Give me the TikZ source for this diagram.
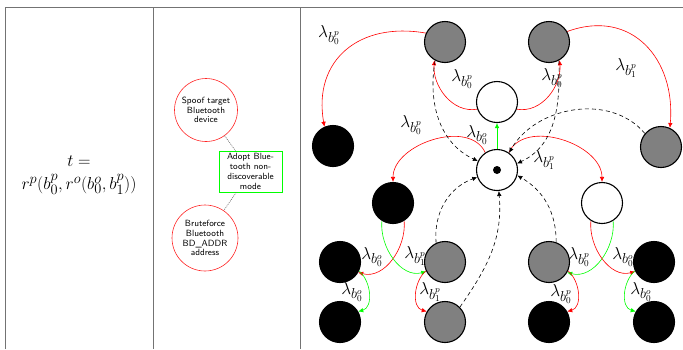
\documentclass[tikz,border=0pt]{standalone}
\usetikzlibrary{arrows.meta,backgrounds}
\begin{document}
\begin{tikzpicture}[x=1pt,y=1pt,
  tabline/.style={draw=black!55, line width=0.8pt},
  st/.style={circle, draw=black, line width=1.1pt, minimum size=41pt, inner sep=0pt},
  gst/.style={st, fill=black!50},
  bst/.style={st, fill=black},
  wst/.style={st, fill=white},
  tipped/.style={-{Latex[length=5pt,width=4.5pt]}},
  redc/.style={tipped, draw=red, line width=0.6pt},
  grnc/.style={tipped, draw=green, line width=0.6pt},
  dsh/.style={tipped, draw=black, line width=0.6pt, dash pattern=on 4pt off 3pt},
  lam/.style={font=\fontsize{19}{19}\selectfont, inner sep=0pt},
  goalc/.style={circle, draw=red!85, line width=0.6pt, inner sep=0pt, align=center,
                font=\sffamily\fontsize{9}{9.8}\selectfont},
  defbox/.style={rectangle, draw=green, line width=0.6pt, inner sep=0pt, align=center,
                 minimum width=63pt, minimum height=41pt,
                 font=\sffamily\fontsize{9}{9.8}\selectfont},
  dotline/.style={draw=black!60, line width=0.6pt, dash pattern=on 1pt off 1pt}
]
\useasboundingbox (0,0) rectangle (683,-349);

% table frame
\draw[tabline] (5,-349) -- (5,-7) -- (683,-7);
\draw[tabline] (153,-7) -- (153,-349);
\draw[tabline] (300,-7) -- (300,-349);

% left column: formula
\node[align=center, font=\fontsize{19}{23}\selectfont] (formula) at (79,-175)
  {$t=$\\$r^p(b_0^p,r^o(b_0^o,b_1^p))$};

% middle column: attack-defence tree
\node[goalc, minimum size=63pt] (spoof) at (206,-110) {Spoof target\\Bluetooth\\device};
\node[goalc, minimum size=66pt] (brute) at (205,-238) {Bruteforce\\Bluetooth\\BD\_ADDR\\address};
\node[defbox] (adopt) at (250.5,-171.5) {Adopt Blue-\\tooth non-\\discoverable\\mode};
\draw[dotline] (spoof) -- (adopt);
\draw[dotline] (adopt) -- (brute);

% right column: states
\node[gst] (tl) at (445,-42) {};
\node[gst] (tr) at (549,-42) {};
\node[wst] (w) at (497,-102) {};
\node[bst] (lb) at (333,-146) {};
\node[gst] (rg) at (661,-147) {};
\node[wst] (c) at (497,-170) {};
\node[circle, fill=black, minimum size=8pt, inner sep=0pt] (cdot) at (c) {};
\node[bst] (bl) at (393,-203) {};
\node[wst] (wr) at (602,-203) {};
\node[bst] (r3a) at (340,-262) {};
\node[gst] (r3b) at (445,-262) {};
\node[gst] (r3c) at (549,-262) {};
\node[bst] (r3d) at (654,-262) {};
\node[bst] (r4a) at (340,-322) {};
\node[gst] (r4b) at (445,-322) {};
\node[bst] (r4c) at (549,-322) {};
\node[bst] (r4d) at (654,-322) {};

\begin{scope}[on background layer]
% top transitions
\draw[redc] (tl.155) to[out=170, in=100, looseness=1.25] (lb.114);
\draw[redc] (w.200) to[out=190, in=-95] (tl.-120);
\draw[redc] (w.-20) to[out=-10, in=-85] (tr.-60);
\draw[redc] (tr.30) to[out=20, in=85, looseness=1.25] (rg.65);
\draw[grnc] (c.90) -- (w.-90);
\draw[redc] (c.124) to[out=115, in=90] (bl.90);
\draw[redc] (c.56) to[out=65, in=90] (wr.90);
% returns to the initial state
\draw[dsh] (tl.-118) to[out=-100, in=155] (c.155);
\draw[dsh] (tr.-62) to[out=-88, in=25] (c.18);
\draw[dsh] (rg.140) to[out=130, in=60] (c.55);
\draw[dsh] (r3b.115) to[out=95, in=200] (c.200);
\draw[dsh] (r4b.45) to[out=55, in=-85] (c.-85);
\draw[dsh] (r3c.70) to[out=90, in=-30] (c.-15);
% lower transitions
\draw[redc] (bl.-58) to[out=-85, in=-15] (r3a.-30);
\draw[grnc] (bl.-122) to[out=-95, in=195] (r3b.207);
\draw[grnc] (r3a.-25) to[out=-40, in=15] (r4a.30);
\draw[redc] (r3b.205) to[out=220, in=165] (r4b.150);
\draw[grnc] (wr.-58) to[out=-85, in=-15] (r3c.-30);
\draw[redc] (wr.-122) to[out=-95, in=195] (r3d.207);
\draw[redc] (r3c.-25) to[out=-40, in=15] (r4c.30);
\draw[grnc] (r3d.205) to[out=220, in=165] (r4d.150);
\end{scope}

% rates
\node[lam] (l1) at (329,-35) {$\lambda_{b_0^p}$};
\node[lam] (l2) at (462,-79) {$\lambda_{b_0^p}$};
\node[lam] (l3) at (552,-78) {$\lambda_{b_0^p}$};
\node[lam] (l4) at (626,-68) {$\lambda_{b_1^p}$};
\node[lam] (l5) at (411,-125) {$\lambda_{b_0^p}$};
\node[lam] (l6) at (477,-135) {$\lambda_{b_0^o}$};
\node[lam] (l7) at (544,-160) {$\lambda_{b_1^p}$};
\node[lam] (l8) at (372,-257) {$\lambda_{b_0^o}$};
\node[lam] (l9) at (415,-256) {$\lambda_{b_1^p}$};
\node[lam] (l10) at (352,-292) {$\lambda_{b_0^o}$};
\node[lam] (l11) at (430,-292) {$\lambda_{b_1^p}$};
\node[lam] (l12) at (579,-257) {$\lambda_{b_0^p}$};
\node[lam] (l13) at (623,-257) {$\lambda_{b_0^o}$};
\node[lam] (l14) at (561,-294) {$\lambda_{b_0^p}$};
\node[lam] (l15) at (641,-292) {$\lambda_{b_0^o}$};
\end{tikzpicture}
\end{document}
